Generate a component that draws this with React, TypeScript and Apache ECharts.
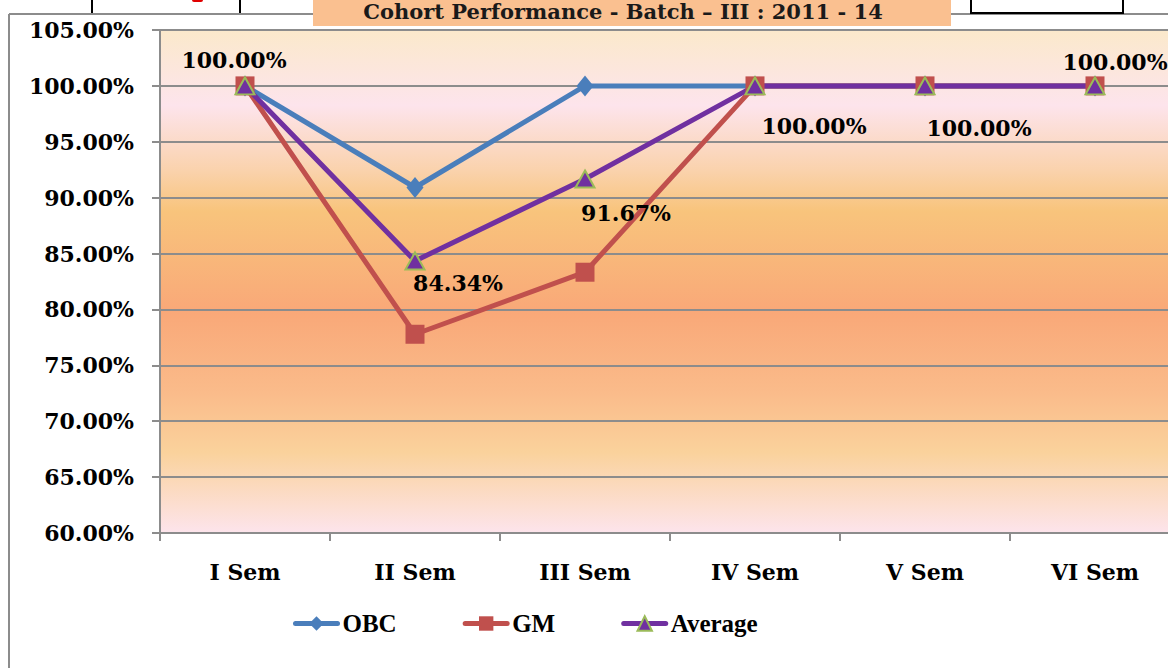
import React, { useEffect, useRef } from "react";
import * as echarts from "echarts";

const categories = ["I Sem", "II Sem", "III Sem", "IV Sem", "V Sem", "VI Sem"];
const obcValues = [100, 90.91, 100, 100, 100, 100];
const gmValues = [100, 77.78, 83.33, 100, 100, 100];
const averageValues = [100, 84.34, 91.67, 100, 100, 100];
const averageLabelOffsets: [number, number][] = [
  [-11, -26],
  [43, 22],
  [41, 34],
  [59, 40],
  [54, 42],
  [20, -24],
];
const titleText = "Cohort Performance - Batch \u2013 III : 2011 - 14";

const SERIF = '"DejaVu Serif", "Liberation Serif", serif';
const LEGEND_FONT = '"Liberation Serif", "DejaVu Serif", serif';
const GRID_GRAY = "#8c8c8c";

export default function App() {
  const ref = useRef<HTMLDivElement>(null);

  useEffect(() => {
    document.body.style.margin = "0";
    if (!ref.current) return;
    const chart = echarts.init(ref.current, undefined, { renderer: "svg" });

    const bg = new echarts.graphic.LinearGradient(0, 0, 0, 1, [
      { offset: 0, color: "#fbe9cb" },
      { offset: 0.15, color: "#fde4ec" },
      { offset: 0.28, color: "#fad2ac" },
      { offset: 0.36, color: "#f8c47c" },
      { offset: 0.56, color: "#f9a878" },
      { offset: 0.72, color: "#fabb8a" },
      { offset: 0.84, color: "#fad29c" },
      { offset: 1, color: "#fde4ec" },
    ]);

    chart.setOption({
      animation: false,
      backgroundColor: "#ffffff",
      grid: {
        left: 160,
        top: 30,
        right: 0,
        bottom: 135,
        show: true,
        backgroundColor: bg,
        borderWidth: 0,
      },
      legend: {
        left: 288,
        top: 606,
        itemWidth: 42,
        itemHeight: 18,
        itemGap: 66,
        data: ["OBC", "GM", "Average"],
        lineStyle: { width: 5, cap: "round" },
        textStyle: {
          fontFamily: LEGEND_FONT,
          fontWeight: "bold",
          fontSize: 25,
          color: "#000",
        },
      },
      xAxis: {
        type: "category",
        data: categories,
        boundaryGap: true,
        axisLine: { show: true, lineStyle: { color: GRID_GRAY, width: 2 } },
        axisTick: { show: true, interval: 0, length: 8, lineStyle: { color: GRID_GRAY, width: 2 } },
        axisLabel: {
          interval: 0,
          margin: 28,
          fontFamily: SERIF,
          fontWeight: "bold",
          fontSize: 22,
          color: "#000",
        },
        splitLine: { show: false },
      },
      yAxis: {
        type: "value",
        min: 60,
        max: 105,
        interval: 5,
        axisLine: { show: true, lineStyle: { color: GRID_GRAY, width: 2 } },
        axisTick: { show: true, length: 8, lineStyle: { color: GRID_GRAY, width: 2 } },
        axisLabel: {
          margin: 26,
          fontFamily: SERIF,
          fontWeight: "bold",
          fontSize: 22,
          color: "#000",
          formatter: (v: number) => v.toFixed(2) + "%",
        },
        splitLine: { show: true, lineStyle: { color: GRID_GRAY, width: 2 } },
      },
      series: [
        {
          name: "OBC",
          type: "line",
          data: obcValues,
          symbol: "diamond",
          symbolSize: [17, 21],
          lineStyle: { color: "#4a7ebb", width: 5 },
          itemStyle: { color: "#4a7ebb" },
        },
        {
          name: "GM",
          type: "line",
          data: gmValues,
          symbol: "rect",
          symbolSize: 19,
          lineStyle: { color: "#c0504d", width: 5 },
          itemStyle: { color: "#c0504d" },
        },
        {
          name: "Average",
          type: "line",
          data: averageValues.map((v, i) => ({
            value: v,
            label: {
              show: true,
              position: "inside",
              offset: averageLabelOffsets[i],
              formatter: (p: any) => Number(p.value).toFixed(2) + "%",
              fontFamily: SERIF,
              fontWeight: "bold",
              fontSize: 22,
              color: "#000",
            },
          })),
          symbol: "triangle",
          symbolSize: [19, 17],
          lineStyle: { color: "#7030a0", width: 5 },
          itemStyle: { color: "#7030a0", borderColor: "#9bbb59", borderWidth: 2 },
        },
      ],
      graphic: [
        // chart outer border
        { type: "line", shape: { x1: 9, y1: 14, x2: 9, y2: 668 }, style: { stroke: GRID_GRAY, lineWidth: 2 } },
        { type: "line", shape: { x1: 9, y1: 14, x2: 313, y2: 14 }, style: { stroke: GRID_GRAY, lineWidth: 2 } },
        { type: "line", shape: { x1: 951, y1: 14, x2: 1180, y2: 14 }, style: { stroke: GRID_GRAY, lineWidth: 2 } },
        // table cells above
        { type: "line", shape: { x1: 92, y1: 0, x2: 92, y2: 13 }, style: { stroke: "#000", lineWidth: 2 } },
        { type: "line", shape: { x1: 240, y1: 0, x2: 240, y2: 13 }, style: { stroke: "#000", lineWidth: 2 } },
        { type: "rect", shape: { x: 971, y: -2, width: 152, height: 15 }, style: { stroke: "#000", lineWidth: 2, fill: "#fff" } },
        { type: "rect", shape: { x: 192, y: -3, width: 11, height: 5, r: 2 }, style: { fill: "#e00000" } },
        // title box
        { type: "rect", shape: { x: 313, y: -5, width: 638, height: 31 }, style: { fill: "#fac090" } },
        {
          type: "text",
          x: 623,
          y: 11,
          style: {
            text: titleText,
            align: "center",
            verticalAlign: "middle",
            fontFamily: SERIF,
            fontWeight: "bold",
            fontSize: 21,
            fill: "#1a1a1a",
          },
        },
      ],
    });

    return () => chart.dispose();
  }, []);

  return (
    <div style={{ width: 1168, height: 668, overflow: "hidden" }}>
      <div ref={ref} style={{ width: 1180, height: 668 }} />
    </div>
  );
}
